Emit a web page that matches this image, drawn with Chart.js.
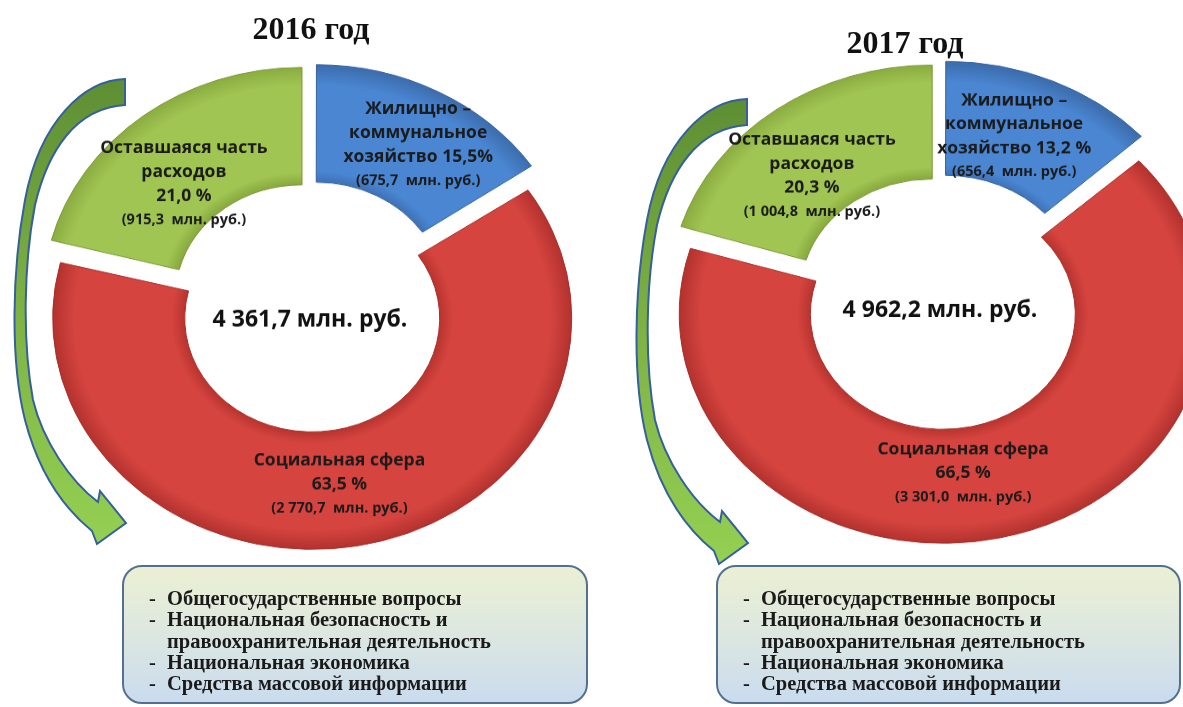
<!DOCTYPE html>
<html lang="ru">
<head>
<meta charset="utf-8">
<script src="https://cdn.jsdelivr.net/npm/chart.js@4.4.0/dist/chart.umd.min.js"></script>
<style>
  html, body { margin: 0; padding: 0; background: #fff; }
  body { width: 1183px; height: 707px; position: relative; overflow: hidden; }
  .wrap { position: absolute; transform-origin: 50% 50%; z-index: 1; }
  .wrap canvas { position: absolute; left: 0; top: 0; }
  .title { position: absolute; transform: translate(-50%, -50%); white-space: nowrap; z-index: 3;
           font-family: "Liberation Serif", serif; font-weight: bold; font-size: 32px; color: #111; }
  .box { position: absolute; box-sizing: border-box; height: 139px; border: 2px solid #54708f; border-radius: 20px;
         background: linear-gradient(#ebf0d3, #dbe6e2 55%, #c9dbee); z-index: 3; }
  .box ul { list-style: none; margin: 0; padding: 21px 0 0 25px; font-family: "Liberation Serif", serif;
            font-weight: bold; font-size: 20.5px; line-height: 21.3px; color: #1a1a1a; }
  .box li { position: relative; padding-left: 18px; }
  .box li::before { content: "-"; position: absolute; left: 0; }
  svg { position: absolute; left: 0; top: 0; z-index: 4; }
</style>
</head>
<body>

<div class="title" style="left:311px; top:28px">2016 год</div>
<div class="title" style="left:905px; top:42px">2017 год</div>

<div class="wrap" style="left:0px; top:-3px; width:620px; height:620px; transform:scaleY(0.89)">
  <canvas id="c2016a" width="620" height="620"></canvas>
  <canvas id="c2016b" width="620" height="620"></canvas>
</div>
<div class="wrap" style="left:640px; top:-7px; width:600px; height:620px; transform:scaleY(0.87)">
  <canvas id="c2017a" width="600" height="620"></canvas>
  <canvas id="c2017b" width="600" height="620"></canvas>
</div>

<div class="box" id="box2016" style="left:122px; top:565px; width:466px"></div>
<div class="box" id="box2017" style="left:716px; top:565px; width:465px"></div>

<svg width="1183" height="707">
  <defs>
    <linearGradient id="arrowFill" x1="0" y1="0" x2="0" y2="1">
      <stop offset="0" stop-color="#5e8e33"/>
      <stop offset="0.5" stop-color="#7eb245"/>
      <stop offset="1" stop-color="#94d052"/>
    </linearGradient>
    <path id="arrow" d="M125,79 C85,80 40,120 25,200 C12,270 10,360 25,420 C38,470 60,505 92,531 L97,544 L126,523 L100,491 L98,502 C70,481 43,441 33,400 C22,340 24,262 35,205 C48,150 76,108 125,105 Z"/>
  </defs>
  <use href="#arrow" fill="url(#arrowFill)" stroke="#36609b" stroke-width="2"/>
  <use href="#arrow" transform="translate(622,20)" fill="url(#arrowFill)" stroke="#36609b" stroke-width="2"/>
</svg>

<script>
// расходы бюджета, млн. руб.
const categories = ['Жилищно – коммунальное хозяйство', 'Социальная сфера', 'Оставшаяся часть расходов'];
const values2016 = [675.7, 2770.7, 915.3];
const values2017 = [656.4, 3301.0, 1004.8];
const shares2016 = [15.5, 63.5, 21.0];
const shares2017 = [13.2, 66.5, 20.3];
const totals = [4361.7, 4962.2];
const nameLines = [['Жилищно –', 'коммунальное', 'хозяйство'], ['Социальная сфера'], ['Оставшаяся часть', 'расходов']];
const otherItems = ['Общегосударственные вопросы', 'Национальная безопасность и правоохранительная деятельность',
                    'Национальная экономика', 'Средства массовой информации'];

// inner edge, middle, outer edge
const sliceColors = [
  ['#3d6fb3', '#4a86d2', '#3d6eae'],
  ['#b9342f', '#d5443f', '#b3322e'],
  ['#88aa3f', '#a1c553', '#8aac40']
];
const sliceBorders = ['#34629e', '#a62e2a', '#7b9937'];
const NONE = 'rgba(0,0,0,0)';
const EXPLODE = 13;  // px; chart.js takes offset / 4

function fmt(v) {
  const parts = v.toFixed(1).split('.');
  return parts[0].replace(/\B(?=(\d{3})+(?!\d))/g, ' ') + ',' + parts[1];
}

// chart.js also grows an exploded arc, by more for the big one than for the small ones
function arcGrow(circumference) {
  return EXPLODE * (1 - Math.sin(Math.min(Math.PI, circumference)));
}

function ringFill(vIn, vOut, show) {
  return (c) => {
    if (!show[c.dataIndex]) return NONE;
    const base = sliceColors[c.dataIndex];
    const a = c.chart.chartArea;
    if (!a) return base[1];
    const cx = (a.left + a.right) / 2, cy = (a.top + a.bottom) / 2;
    const g = c.chart.ctx.createRadialGradient(cx, cy, vIn, cx, cy, vOut);
    g.addColorStop(0, base[0]);
    g.addColorStop(0.1, base[1]);
    g.addColorStop(0.84, base[1]);
    g.addColorStop(1, base[2]);
    return g;
  };
}

const sliceLabels = {
  id: 'sliceLabels',
  afterDatasetsDraw(chart, args, opts) {
    const ctx = chart.ctx;
    const meta = chart.getDatasetMeta(0);
    const data = chart.data.datasets[0].data;
    ctx.save();
    ctx.textAlign = 'center';
    ctx.textBaseline = 'middle';
    ctx.fillStyle = '#1b1b1b';
    let cx = 0, cy = 0;
    meta.data.forEach((arc, i) => {
      const p = arc.getProps(['x', 'y', 'startAngle', 'endAngle', 'innerRadius', 'outerRadius', 'circumference']);
      cx = p.x; cy = p.y;
      if (!opts.show[i]) return;
      const mid = (p.startAngle + p.endAngle) / 2;
      const r = (p.innerRadius + p.outerRadius) / 2 + EXPLODE + arcGrow(p.circumference);
      const big = nameLines[i].slice();
      const pct = fmt(opts.shares[i]) + opts.pctSep[i] + '%';
      if (i === 0) big[big.length - 1] += ' ' + pct; else big.push(pct);
      const small = '(' + fmt(data[i]) + '  млн. руб.)';
      const h = (big.length + 1) * 24;
      ctx.save();
      ctx.translate(p.x + Math.cos(mid) * r, p.y + Math.sin(mid) * r);
      ctx.scale(1, 1 / opts.sy);
      ctx.translate(opts.nudge[i][0], opts.nudge[i][1]);
      let ty = -h / 2 + 12;
      ctx.font = 'bold 17.5px "Open Sans"';
      big.forEach(t => { ctx.fillText(t, 0, ty); ty += 24; });
      ctx.font = 'bold 14.5px "Open Sans"';
      ctx.fillText(small, 0, ty);
      ctx.restore();
    });
    if (opts.center) {
      ctx.translate(cx, cy);
      ctx.scale(1, 1 / opts.sy);
      ctx.font = 'bold 23px "Open Sans"';
      ctx.fillStyle = '#111';
      ctx.fillText(fmt(opts.total) + ' млн. руб.', 0, opts.centerDy);
    }
    ctx.restore();
  }
};

function makeLayer(id, values, show, radius, cutout, vIn, vOut, labelOpts) {
  new Chart(document.getElementById(id), {
    type: 'doughnut',
    data: {
      labels: categories,
      datasets: [{
        data: values,
        backgroundColor: ringFill(vIn, vOut, show),
        borderColor: sliceBorders.map((c, i) => show[i] ? c : NONE),
        borderWidth: 1,
        offset: EXPLODE * 4
      }]
    },
    options: {
      responsive: false,
      animation: false,
      devicePixelRatio: 1,
      radius: radius,
      cutout: (cutout * 100) + '%',
      layout: { padding: 0 },
      plugins: {
        legend: { display: false },
        tooltip: { enabled: false },
        sliceLabels: Object.assign({ show: show }, labelOpts)
      }
    },
    plugins: [sliceLabels]
  });
}

// one layer for the big slice, one for the two small ones, so all three end up the same size
function makeYear(key, values, shares, total, vOut, vIn, labelOpts) {
  const big = EXPLODE;   // growth of the big arc
  const small = 1;       // about what the small arcs grow
  const base = Object.assign({ shares: shares, total: total }, labelOpts);
  makeLayer('c' + key + 'a', values, [false, true, false], vOut - big, (vIn - big) / (vOut - big), vIn, vOut,
    Object.assign({ center: true }, base));
  makeLayer('c' + key + 'b', values, [true, false, true], vOut - small, (vIn - small) / (vOut - small), vIn, vOut,
    Object.assign({ center: false }, base));
}

makeYear('2016', values2016, shares2016, totals[0], 259.5, 127.5,
  { sy: 0.89, pctSep: ['', ' ', ' '], nudge: [[11, 1], [-6, -4], [0, 22]], centerDy: 13 });
makeYear('2017', values2017, shares2017, totals[1], 263.5, 132.5,
  { sy: 0.87, pctSep: [' ', ' ', ' '], nudge: [[-12, 3], [-23, -9], [-3, 20]], centerDy: 7 });

function fillBox(id) {
  const ul = document.createElement('ul');
  otherItems.forEach(t => {
    const li = document.createElement('li');
    li.textContent = t;
    ul.appendChild(li);
  });
  document.getElementById(id).appendChild(ul);
}
fillBox('box2016');
fillBox('box2017');
</script>
</body>
</html>
